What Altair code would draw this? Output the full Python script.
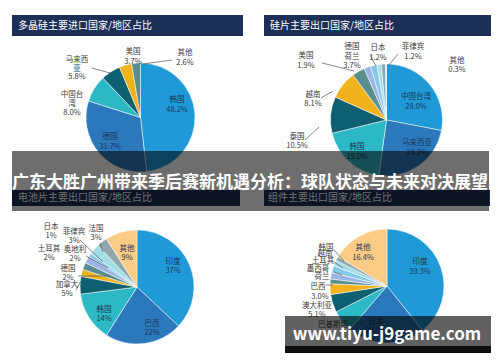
import altair as alt
import pandas as pd

FONT = "Noto Sans CJK SC"

# ---------- data ----------
p1_names = ["韩国", "德国", "中国台湾", "马来西亚", "美国", "其他"]
p1_values = [48.2, 31.7, 8.0, 5.8, 3.7, 2.6]

p2_names = ["中国台湾", "马来西亚", "韩国", "泰国", "越南", "荷兰", "美国", "德国", "日本", "菲律宾", "其他"]
p2_values = [28.0, 24.2, 19.0, 10.5, 8.1, 3.7, 1.9, 1.9, 1.2, 1.2, 0.3]

p3_names = ["印度", "巴西", "韩国", "加拿大", "德国", "奥地利", "土耳其", "日本", "菲律宾", "法国", "其他"]
p3_values = [37, 22, 14, 5, 2, 2, 2, 1, 3, 3, 9]

p4_names = ["印度", "日本", "巴基斯坦", "澳大利亚", "巴西", "越南", "荷兰", "墨西哥", "土耳其", "韩国", "其他"]
p4_values = [39.3, 22.0, 6.2, 5.1, 3.0, 1.4, 1.8, 2.0, 1.6, 1.2, 16.4]

titles = ["多晶硅主要进口国家/地区占比", "硅片主要出口国家/地区占比",
          "电池片主要出口国家/地区占比", "组件主要出口国家/地区占比"]
banner_text = "广东大胜广州带来季后赛新机遇分析：球队状态与未来对决展望"
watermark_text = "www.tiyu-j9game.com"

# ---------- styles ----------
pal6 = ["#1f9ad6", "#2b78bd", "#2cb8c4", "#0e6070", "#f1b31c", "#5b8f8f"]
pal11 = ["#1f9ad6", "#2b78bd", "#2cb8c4", "#0e6070", "#f1b31c", "#5b8f8f",
         "#9cb4e4", "#86c8ea", "#a3dde6", "#8fa8ac", "#c8c8c8"]
pal11b = pal11[:10] + ["#fccb86"]

# ---------- layout ----------
X = alt.Scale(domain=[8, 492])
Y = alt.Scale(domain=[8, 354], reverse=True)


def pie(names, values, colors, cx, cy, r):
    df = pd.DataFrame({"name": names, "v": values, "c": colors, "i": list(range(len(names)))})
    return alt.Chart(df).mark_arc(outerRadius=r, stroke="white", strokeWidth=0.5).encode(
        theta=alt.Theta("v:Q", stack=True, scale=alt.Scale(domain=[0, 100])),
        order=alt.Order("i:Q"),
        color=alt.Color("c:N", scale=None),
        x=alt.value(cx - 8),
        y=alt.value(cy - 8),
    )


def rects(rows, fill, opacity=1.0):
    df = pd.DataFrame(rows, columns=["x", "x2", "y", "y2"])
    return alt.Chart(df).mark_rect(color=fill, opacity=opacity).encode(
        x=alt.X("x:Q", scale=X, axis=None), x2="x2:Q",
        y=alt.Y("y:Q", scale=Y, axis=None), y2="y2:Q")


def texts(rows, size, color, weight="normal", align="center"):
    df = pd.DataFrame(rows, columns=["t", "x", "y"])
    return alt.Chart(df).mark_text(font=FONT, fontSize=size, color=color, fontWeight=weight,
                                   align=align, baseline="middle").encode(
        x=alt.X("x:Q", scale=X, axis=None), y=alt.Y("y:Q", scale=Y, axis=None), text="t:N")


def rules(rows):
    df = pd.DataFrame(rows, columns=["x", "y", "x2", "y2"])
    return alt.Chart(df).mark_rule(color="#555555", strokeWidth=0.7).encode(
        x=alt.X("x:Q", scale=X, axis=None), y=alt.Y("y:Q", scale=Y, axis=None),
        x2="x2:Q", y2="y2:Q")


title_bars = rects([(12, 243, 15, 36), (264, 491, 15, 36), (12, 240, 190, 206), (264, 490, 190, 206)], "#1c2f56")
title_txt = texts([(titles[0], 18, 25.5), (titles[1], 270, 25.5), (titles[2], 18, 198), (titles[3], 268, 198)],
                  10, "#ffffff", align="left")

pies = [
    pie(p1_names, p1_values, pal6, 140.5, 117.5, 54.5),
    pie(p2_names, p2_values, pal11, 386.5, 120, 56),
    pie(p3_names, p3_values, pal11b, 137, 287, 57),
    pie(p4_names, p4_values, pal11b, 387, 286, 57),
]

inner = texts([
    ("韩国", 177, 100), ("48.2%", 177, 110), ("德国", 110, 137), ("31.7%", 110, 147),
    ("中国台湾", 416, 97), ("28.0%", 416, 107), ("马来西亚", 417, 143), ("24.2%", 417, 153),
    ("韩国", 357, 147), ("19.0%", 357, 157),
    ("其他", 127, 249), ("9%", 127, 258), ("印度", 173, 262), ("37%", 173, 271),
    ("韩国", 104, 310), ("14%", 104, 319), ("巴西", 152, 324), ("22%", 152, 333),
    ("其他", 363, 248), ("16.4%", 363, 258), ("印度", 420, 262), ("39.3%", 420, 272),
    ("日本", 376, 322), ("22.0%", 376, 331),
], 7.5, "#1d3556")

outer = texts([
    ("中国台", 72, 95), ("湾", 72, 104), ("8.0%", 72, 113),
    ("马来西", 77, 60), ("亚", 77, 69), ("5.8%", 77, 77),
    ("美国", 133, 52), ("3.7%", 133, 62), ("其他", 185, 53), ("2.6%", 185, 63),
    ("泰国", 297, 137), ("10.5%", 297, 146), ("越南", 313, 95), ("8.1%", 313, 104),
    ("美国", 306, 56), ("1.9%", 306, 66), ("德国", 352, 47), ("荷兰", 352, 57), ("3.7%", 352, 66),
    ("日本", 378, 48), ("1.2%", 378, 58), ("菲律宾", 413, 47), ("1.2%", 413, 57),
    ("其他", 457, 61), ("0.3%", 457, 70),
    ("日本", 51, 227), ("1%", 51, 236), ("菲律宾", 74, 232), ("3%", 74, 241),
    ("法国", 96, 229), ("3%", 96, 238), ("土耳其", 49, 249), ("2%", 49, 258),
    ("奥地利", 75, 250), ("2%", 75, 259), ("德国", 68, 269), ("2%", 68, 278),
    ("加拿大", 67, 285), ("5%", 67, 294),
    ("韩国", 326, 248), ("越南", 325, 254), ("土耳其", 323, 261), ("墨西哥", 318, 269),
    ("荷兰", 322, 277), ("巴西", 318, 287), ("3.0%", 320, 297), ("澳大利亚", 317, 306),
    ("5.1%", 317, 315), ("巴基斯坦", 333, 325),
], 7.5, "#3a3a3a")

leaders = rules([
    (92, 68, 110, 73), (172, 60, 143, 64),
    (322, 63, 354, 71), (321, 98, 333, 91), (305, 140, 319, 127), (370, 55, 376, 66), (398, 54, 388, 66),
    (80, 240, 103, 262), (100, 243, 103, 252), (86, 256, 108, 268), (78, 276, 109, 276), (76, 290, 81, 281),
    (334, 250, 344, 261), (334, 262, 343, 268), (334, 272, 342, 275), (326, 285, 333, 285),
])

banner = rects([(12, 489, 151, 211)], "#000000", 0.57)
banner_txt = texts([(banner_text, 250, 183)], 17.0, "#ffffff", weight="bold")

wm_box = rects([(285, 491, 316, 353)], "#000000", 0.62)
wm_strip = rects([(285, 491, 346, 353)], "#000000", 0.85)
wm_txt = texts([(watermark_text, 387, 335)], 17, "#ffffff", weight="bold")

chart = alt.layer(
    title_bars, title_txt, *pies, leaders, inner, outer,
    banner, banner_txt, wm_box, wm_strip, wm_txt,
).properties(
    width=484, height=346, padding=0, autosize=alt.AutoSizeParams(type="none")
).configure_view(stroke=None)

chart.save("out.html", embed_options={"renderer": "svg", "actions": False})
